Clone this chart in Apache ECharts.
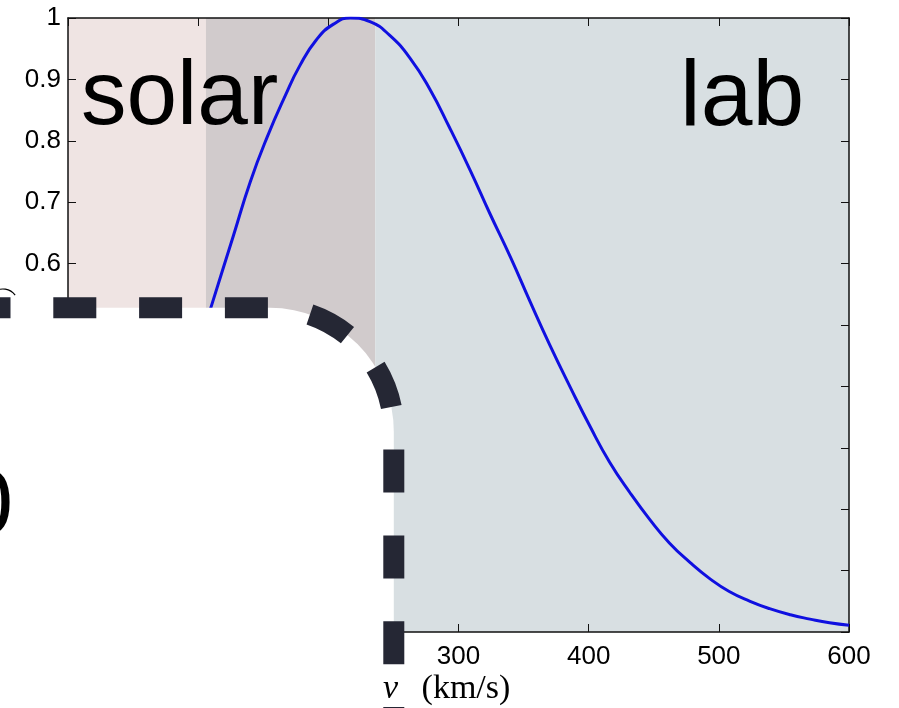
<!DOCTYPE html>
<html>
<head>
<meta charset="utf-8">
<script src="https://cdn.jsdelivr.net/npm/echarts@6/dist/echarts.min.js"></script>
<style>
html,body{margin:0;padding:0;background:#fff;}
#chart{width:899px;height:708px;}
</style>
</head>
<body>
<div id="chart"></div>
<script>
// speed (km/s) and normalised distribution
var velocity = [100, 110, 127, 140, 153, 167, 178, 191, 204, 217, 232, 247, 263, 278, 293, 309, 324, 340, 355, 370, 386, 401, 416, 432, 447, 462, 478, 493, 508, 524, 539, 555, 570, 585, 600];
var distribution = [0.462, 0.530, 0.645, 0.733, 0.806, 0.874, 0.922, 0.965, 0.990, 1.0, 0.994, 0.972, 0.934, 0.884, 0.822, 0.752, 0.682, 0.610, 0.538, 0.468, 0.398, 0.335, 0.277, 0.226, 0.183, 0.145, 0.113, 0.087, 0.066, 0.050, 0.038, 0.028, 0.021, 0.015, 0.011];
// velocity ranges of the two shaded regions
var solarRange = [0, 236];
var labRange = [106, 600];
var regionLabels = ['solar', 'lab'];
var xTicks = [0, 100, 200, 300, 400, 500, 600];
var yTicks = [0, 0.1, 0.2, 0.3, 0.4, 0.5, 0.6, 0.7, 0.8, 0.9, 1];
var xAxisTitle = '{i|v} {s|(km/s)}';

var chart = echarts.init(document.getElementById('chart'), null, {renderer: 'canvas'});
var axisCol = '#111';
var lineData = velocity.map(function (v, i) { return [v, distribution[i]]; });

var bands = [
  [{xAxis: solarRange[0], itemStyle: {color: '#efe4e3'}}, {xAxis: labRange[0]}],
  [{xAxis: labRange[0], itemStyle: {color: '#d1cbcc'}}, {xAxis: solarRange[1]}],
  [{xAxis: solarRange[1], itemStyle: {color: '#d8dfe2'}}, {xAxis: labRange[1]}]
];

var tickStyle = {show: true, inside: true, length: 8, lineStyle: {color: axisCol, width: 1}};
var option = {
  animation: false,
  backgroundColor: '#fff',
  grid: {left: 68, right: 50, top: 18, bottom: 76, containLabel: false, outerBoundsMode: 'none'},
  xAxis: [{
    type: 'value', min: xTicks[0], max: xTicks[xTicks.length - 1], interval: 100,
    position: 'bottom', z: 5,
    axisLine: {show: true, onZero: false, lineStyle: {color: axisCol, width: 1.5}},
    axisTick: tickStyle,
    splitLine: {show: false},
    axisLabel: {color: '#000', fontSize: 26, fontFamily: 'Liberation Sans', margin: 12}
  }, {
    type: 'value', min: xTicks[0], max: xTicks[xTicks.length - 1], interval: 100,
    position: 'top', z: 5,
    axisLine: {show: true, onZero: false, lineStyle: {color: axisCol, width: 1.5}},
    axisTick: tickStyle,
    splitLine: {show: false},
    axisLabel: {show: false}
  }],
  yAxis: [{
    type: 'value', min: yTicks[0], max: yTicks[yTicks.length - 1], interval: 0.1,
    position: 'left', z: 5,
    axisLine: {show: true, onZero: false, lineStyle: {color: axisCol, width: 1.5}},
    axisTick: tickStyle,
    splitLine: {show: false},
    axisLabel: {
      color: '#000', fontSize: 26, fontFamily: 'Liberation Sans', margin: 7,
      formatter: function (v) { return (v === 0 || v === 1) ? String(v) : v.toFixed(1); }
    }
  }, {
    type: 'value', min: yTicks[0], max: yTicks[yTicks.length - 1], interval: 0.1,
    position: 'right', z: 5,
    axisLine: {show: true, onZero: false, lineStyle: {color: axisCol, width: 1.5}},
    axisTick: tickStyle,
    splitLine: {show: false},
    axisLabel: {show: false}
  }],
  series: [{
    type: 'line',
    data: lineData,
    smooth: 0.5,
    showSymbol: false,
    lineStyle: {color: '#1010e0', width: 3},
    z: 6,
    markArea: {silent: true, data: bands}
  }],
  graphic: [
    {
      type: 'text', left: 81, top: 53, z: 50,
      style: {text: regionLabels[0], fontSize: 91, fontFamily: 'Liberation Sans', fill: '#000'}
    },
    {
      type: 'text', left: 680, top: 53, z: 50,
      style: {text: regionLabels[1], fontSize: 93, fontFamily: 'Liberation Sans', fill: '#000'}
    },
    {
      type: 'rect', z: 100,
      shape: {x: -242.3, y: 307.8, width: 636.1, height: 600, r: 124},
      style: {fill: '#fff', stroke: '#252734', lineWidth: 21, lineDash: [43, 42.8]}
    },
    {
      type: 'text', z: 101, left: -38, top: 463,
      style: {text: '0', fontSize: 92, fontFamily: 'Liberation Sans', fill: '#000'}
    },
    {
      type: 'arc', z: 101,
      shape: {cx: 3, cy: 304, r: 15, startAngle: -Math.PI * 0.95, endAngle: -Math.PI * 0.2},
      style: {stroke: '#000', lineWidth: 1.2, fill: null}
    },
    {
      type: 'text', z: 102, left: 383, top: 672,
      style: {
        text: xAxisTitle, fontSize: 34, fontFamily: 'Liberation Serif', fill: '#000',
        rich: {
          i: {fontStyle: 'italic', fontSize: 34, fontFamily: 'Liberation Serif', fill: '#000'},
          s: {fontSize: 34, fontFamily: 'Liberation Serif', fill: '#000', padding: [0, 0, 0, 15]}
        }
      }
    }
  ]
};
chart.setOption(option);
</script>
</body>
</html>
